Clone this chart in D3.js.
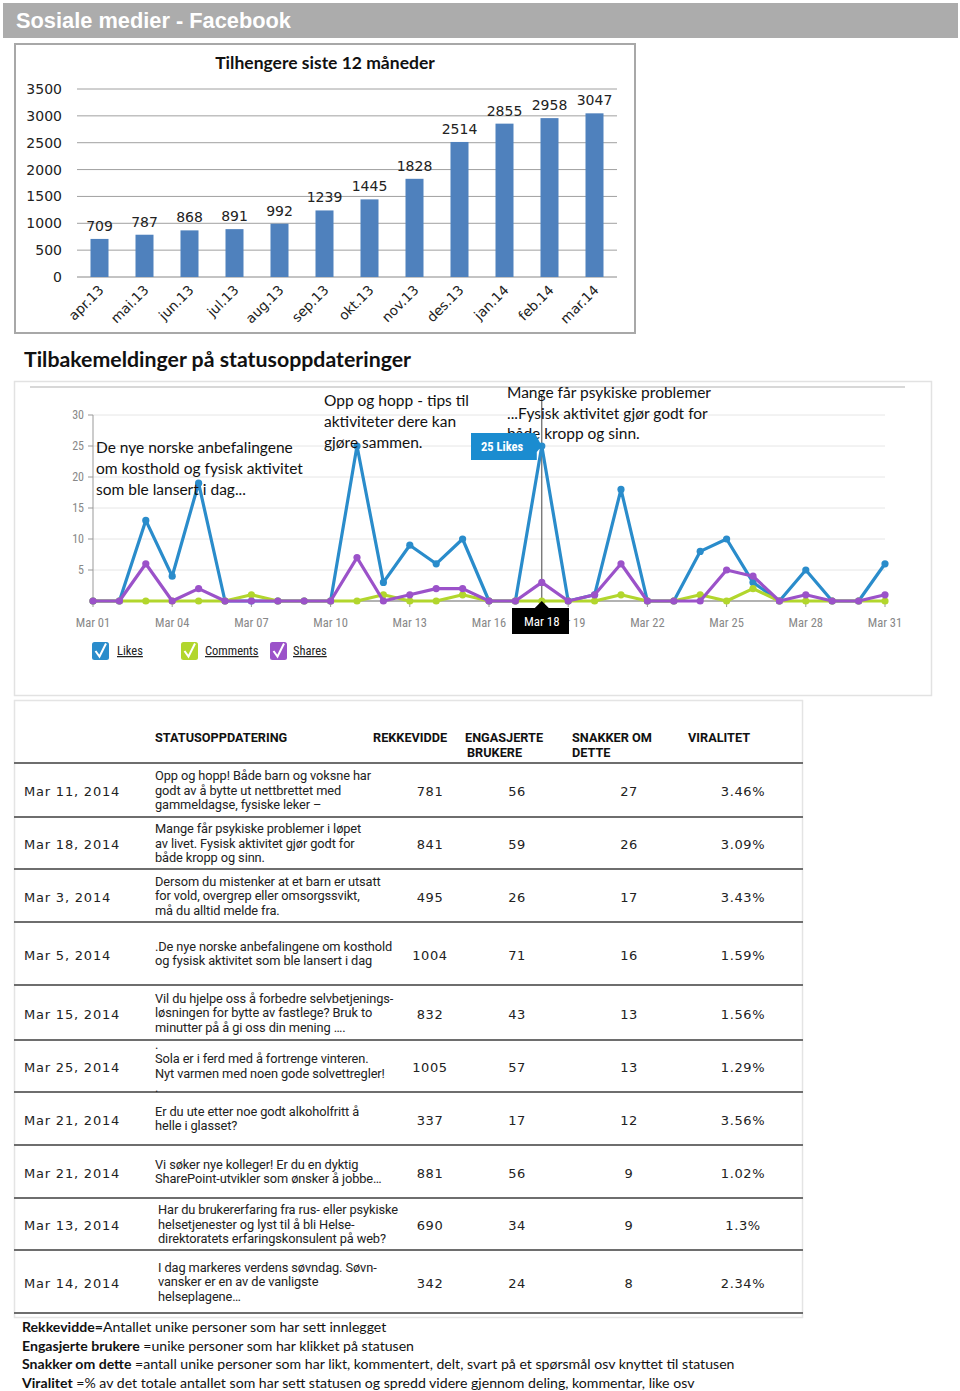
<!DOCTYPE html>
<html><head><meta charset="utf-8">
<script src="https://cdn.jsdelivr.net/npm/d3@7"></script>
<style>
html,body{margin:0;padding:0;background:#fff;}
svg{display:block;}
</style></head><body>
<svg id="c" width="960" height="1391"></svg>
<script>
// ---------- data ----------
const months = ["apr.13","mai.13","jun.13","jul.13","aug.13","sep.13","okt.13","nov.13","des.13","jan.14","feb.14","mar.14"];
const followers = [709,787,868,891,992,1239,1445,1828,2514,2855,2958,3047];
const followerTicks = [0,500,1000,1500,2000,2500,3000,3500];

const days = [1,2,3,4,5,6,7,8,9,10,11,12,13,14,15,16,17,18,19,20,21,22,23,24,25,26,27,28,29,30,31];
const dayTickDays = [1,4,7,10,13,16,19,22,25,28,31];
const dayTickLabels = ["Mar 01","Mar 04","Mar 07","Mar 10","Mar 13","Mar 16","Mar 19","Mar 22","Mar 25","Mar 28","Mar 31"];
const feedbackTicks = [5,10,15,20,25,30];
const likes    = [0,0,13,4,19,0,0,0,0,0,25,3,9,6,10,0,0,25,0,1,18,0,0,8,10,3,0,5,0,0,6];
const comments = [0,0,0,0,0,0,1,0,0,0,0,1,0,0,1,0,0,0,0,0,1,0,0,1,0,2,0,0,0,0,0];
const shares   = [0,0,6,0,2,0,0,0,0,0,7,0,1,2,2,0,0,3,0,1,6,0,0,0,5,4,0,1,0,0,1];
const seriesNames = ["Likes","Comments","Shares"];

const postDates = ["Mar 11, 2014","Mar 18, 2014","Mar 3, 2014","Mar 5, 2014","Mar 15, 2014","Mar 25, 2014","Mar 21, 2014","Mar 21, 2014","Mar 13, 2014","Mar 14, 2014"];
const postTexts = [
  ["Opp og hopp! Både barn og voksne har","godt av å bytte ut nettbrettet med","gammeldagse, fysiske leker –"],
  ["Mange får psykiske problemer i løpet","av livet. Fysisk aktivitet gjør godt for","både kropp og sinn."],
  ["Dersom du mistenker at et barn er utsatt","for vold, overgrep eller omsorgssvikt,","må du alltid melde fra."],
  [".De nye norske anbefalingene om kosthold","og fysisk aktivitet som ble lansert i dag"],
  ["Vil du hjelpe oss å forbedre selvbetjenings-","løsningen for bytte av fastlege? Bruk to","minutter på å gi oss din mening …."],
  [".","Sola er i ferd med å fortrenge vinteren.","Nyt varmen med noen gode solvettregler!","."],
  ["Er du ute etter noe godt alkoholfritt å","helle i glasset?"],
  ["Vi søker nye kolleger! Er du en dyktig","SharePoint-utvikler som ønsker å jobbe…"],
  ["Har du brukererfaring fra rus- eller psykiske","helsetjenester og lyst til å bli Helse-","direktoratets erfaringskonsulent på web?"],
  ["I dag markeres verdens søvndag. Søvn-","vansker er en av de vanligste","helseplagene…"]
];
const reach    = [781,841,495,1004,832,1005,337,881,690,342];
const engaged  = [56,59,26,71,43,57,17,56,34,24];
const talking  = [27,26,17,16,13,13,12,9,9,8];
const virality = ["3.46%","3.09%","3.43%","1.59%","1.56%","1.29%","3.56%","1.02%","1.3%","2.34%"];

// ---------- layout ----------
const svg = d3.select("#c");
const NARROW = "'Liberation Sans Narrow','Arial Narrow','Roboto Condensed',sans-serif";
const MYR = "Roboto,'Noto Sans',sans-serif";
const CAL = "Lato,'Open Sans',sans-serif";
const VER = "'DejaVu Sans',Verdana,sans-serif";

// header bar
svg.append("rect").attr("x",3).attr("y",3).attr("width",955).attr("height",35).attr("fill","#acacac");
svg.append("text").attr("x",16).attr("y",28).text("Sosiale medier - Facebook")
  .attr("font-family","'Liberation Sans',Arial,sans-serif").attr("font-weight","bold")
  .attr("font-size",21.8).attr("fill","#fff");

// ---------- bar chart ----------
svg.append("rect").attr("x",15).attr("y",44).attr("width",620).attr("height",289)
  .attr("fill","#fff").attr("stroke","#a8a8a8").attr("stroke-width",2);
svg.append("text").attr("x",325).attr("y",69).attr("text-anchor","middle")
  .text("Tilhengere siste 12 måneder")
  .attr("font-family",CAL).attr("font-weight","bold").attr("font-size",17.5).attr("fill","#111");

const bx = d3.scaleBand().domain(months).range([77,617]).paddingInner(0.6).paddingOuter(0.3);
const by = d3.scaleLinear().domain([0,3500]).range([277,89]);

const bg = svg.append("g");
bg.selectAll("line.g").data(followerTicks).join("line")
  .attr("x1",77).attr("x2",617).attr("y1",d=>by(d)).attr("y2",d=>by(d))
  .attr("stroke",d=>d===0?"#888":"#a0a0a0").attr("stroke-width",1);
bg.selectAll("text.yt").data(followerTicks).join("text")
  .attr("x",62).attr("y",d=>by(d)+5).attr("text-anchor","end").text(d=>d)
  .attr("font-family",VER).attr("font-size",14).attr("fill","#222");
bg.selectAll("rect.bar").data(followers).join("rect")
  .attr("x",(d,i)=>bx(months[i])).attr("width",bx.bandwidth())
  .attr("y",d=>by(d)).attr("height",d=>by(0)-by(d)).attr("fill","#4f81bd");
bg.selectAll("text.vl").data(followers).join("text")
  .attr("x",(d,i)=>bx(months[i])+bx.bandwidth()/2).attr("y",d=>by(d)-8)
  .attr("text-anchor","middle").text(d=>d)
  .attr("font-family",VER).attr("font-size",14).attr("fill","#222");
bg.selectAll("text.xl").data(months).join("text")
  .attr("transform",d=>`translate(${bx(d)+bx.bandwidth()/2+5},291) rotate(-45)`)
  .attr("text-anchor","end").text(d=>d)
  .attr("font-family",VER).attr("font-size",13.5).attr("fill","#222");

// ---------- second heading ----------
svg.append("text").attr("x",24).attr("y",367).text("Tilbakemeldinger på statusoppdateringer")
  .attr("font-family",CAL).attr("font-weight","bold").attr("font-size",21.3).attr("fill","#111");

// ---------- line chart ----------
svg.append("rect").attr("x",14.5).attr("y",381.5).attr("width",917).attr("height",314)
  .attr("fill","#fff").attr("stroke","#e2e2e2").attr("stroke-width",1.5);
svg.append("line").attr("x1",30).attr("x2",905).attr("y1",387).attr("y2",387)
  .attr("stroke","#d8d8d8").attr("stroke-width",2);

const lx = d3.scaleLinear().domain([1,31]).range([93,885]);
const ly = d3.scaleLinear().domain([0,30]).range([601,415]);
const lg = svg.append("g");
lg.selectAll("line.grid").data(feedbackTicks).join("line")
  .attr("x1",93).attr("x2",885).attr("y1",d=>ly(d)).attr("y2",d=>ly(d))
  .attr("stroke","#e6e6e6").attr("stroke-width",1);
// y axis
lg.append("line").attr("x1",93).attr("x2",93).attr("y1",ly(30)).attr("y2",ly(0)).attr("stroke","#999");
lg.selectAll("line.yt").data(feedbackTicks).join("line")
  .attr("x1",88).attr("x2",93).attr("y1",d=>ly(d)).attr("y2",d=>ly(d)).attr("stroke","#999");
lg.selectAll("text.yl").data(feedbackTicks).join("text")
  .attr("x",84).attr("y",d=>ly(d)+4).attr("text-anchor","end").text(d=>d)
  .attr("font-family",NARROW).attr("font-size",12).attr("fill","#888");
// x axis
lg.append("line").attr("x1",93).attr("x2",885).attr("y1",ly(0)).attr("y2",ly(0)).attr("stroke","#999").attr("stroke-width",1.5);
lg.selectAll("line.xt").data(dayTickDays).join("line")
  .attr("x1",d=>lx(d)).attr("x2",d=>lx(d)).attr("y1",ly(0)).attr("y2",ly(0)+6).attr("stroke","#999");
lg.selectAll("text.xl").data(dayTickDays).join("text")
  .attr("x",d=>lx(d)).attr("y",627).attr("text-anchor","middle").text((d,i)=>dayTickLabels[i])
  .attr("font-family",NARROW).attr("font-size",12.5).attr("fill","#888");

// annotations (under lines)
const annStyle = s => s.attr("font-family",CAL).attr("font-size",15.5).attr("fill","#111");
["De nye norske anbefalingene","om kosthold og fysisk aktivitet","som ble lansert i dag..."].forEach((t,i)=>annStyle(svg.append("text").attr("x",96).attr("y",453+i*21).text(t)));
["Opp og hopp - tips til","aktiviteter dere kan","gjøre sammen."].forEach((t,i)=>annStyle(svg.append("text").attr("x",324).attr("y",406+i*21).text(t)));
["Mange får psykiske problemer","...Fysisk aktivitet gjør godt for","både kropp og sinn."].forEach((t,i)=>annStyle(svg.append("text").attr("x",507).attr("y",398+i*20.5).text(t)));

// hover line
lg.append("line").attr("x1",lx(18)).attr("x2",lx(18)).attr("y1",395).attr("y2",ly(0)).attr("stroke","#444").attr("stroke-width",1);

const colors = ["#2a8ccb","#b2d62d","#9b52c9"];
const series = [likes,comments,shares];
const line = d3.line().x((d,i)=>lx(days[i])).y(d=>ly(d));
series.forEach((s,k)=>{
  lg.append("path").datum(s).attr("d",line).attr("fill","none")
    .attr("stroke",colors[k]).attr("stroke-width",3.2).attr("stroke-linejoin","round");
  lg.selectAll(null).data(s).join("circle")
    .attr("cx",(d,i)=>lx(days[i])).attr("cy",d=>ly(d)).attr("r",3.6).attr("fill",colors[k]);
});

// tooltip 25 Likes
const tx = lx(18), ty = ly(likes[17]);
svg.append("path").attr("d",`M471,433 L${tx-7},433 L${tx},${ty} L${tx-5},452 L${tx-5},460 L471,460 Z`).attr("fill","#1b8cd0");
svg.append("text").attr("x",481).attr("y",451).text("25 Likes").attr("font-family",NARROW)
  .attr("font-weight","bold").attr("font-size",12.5).attr("fill","#fff");
// date box
svg.append("path").attr("d",`M512,608 L${tx-7},608 L${tx},601 L${tx+7},608 L569,608 L569,634 L512,634 Z`).attr("fill","#000");
svg.append("text").attr("x",tx).attr("y",626).attr("text-anchor","middle").text("Mar 18")
  .attr("font-family",NARROW).attr("font-size",13).attr("fill","#fff");

// legend
const legX = [92,181,270], legTX = [117,205,293];
seriesNames.forEach((n,k)=>{
  svg.append("rect").attr("x",legX[k]).attr("y",642).attr("width",17).attr("height",18).attr("rx",2.5).attr("fill",colors[k]);
  svg.append("path").attr("d",`M${legX[k]+3.5},${651} L${legX[k]+7.5},${656.5} L${legX[k]+14},${643.5}`)
    .attr("fill","none").attr("stroke","#fff").attr("stroke-width",2);
  svg.append("text").attr("x",legTX[k]).attr("y",655).text(n).attr("font-family",NARROW)
    .attr("font-size",12.5).attr("fill","#222").attr("text-decoration","underline");
});

// ---------- table ----------
svg.append("rect").attr("x",14.5).attr("y",700.5).attr("width",788).attr("height",617)
  .attr("fill","#fff").attr("stroke","#e4e4e4").attr("stroke-width",1.5);
const hdr = (x,y,t)=>svg.append("text").attr("x",x).attr("y",y).text(t)
  .attr("font-family",MYR).attr("font-weight","bold").attr("font-size",12.7).attr("fill","#111");
hdr(155,742,"STATUSOPPDATERING");
hdr(373,742,"REKKEVIDDE");
hdr(465,742,"ENGASJERTE"); hdr(467,757,"BRUKERE");
hdr(572,742,"SNAKKER OM"); hdr(572,757,"DETTE");
hdr(688,742,"VIRALITET");

const rowBounds = [763,817,869,922,985,1040,1092,1145,1198,1250,1313];
rowBounds.forEach(y=>{
  svg.append("line").attr("x1",14).attr("x2",803).attr("y1",y).attr("y2",y).attr("stroke","#6e6e6e").attr("stroke-width",2);
});
const lh = 14.5;
postDates.forEach((d,i)=>{
  const mid = (rowBounds[i]+rowBounds[i+1])/2;
  const base = mid+6;
  svg.append("text").attr("x",24).attr("y",base).text(d).attr("font-family",VER).attr("font-size",13)
    .attr("letter-spacing",0.8).attr("fill","#222");
  const lines = postTexts[i];
  const top = mid - (lines.length-1)*lh/2;
  lines.forEach((t,j)=>svg.append("text").attr("x",i>=8?158:155).attr("y",top+j*lh+4.5).text(t)
    .attr("font-family",MYR).attr("font-size",12.8).attr("letter-spacing",-0.1).attr("fill","#222"));
  [[430,reach[i]],[517,engaged[i]],[629,talking[i]],[743,virality[i]]].forEach(([x,v])=>{
    svg.append("text").attr("x",x).attr("y",base).attr("text-anchor","middle").text(v)
      .attr("font-family",VER).attr("font-size",13).attr("letter-spacing",0.6).attr("fill","#222");
  });
});

// ---------- footer ----------
const foot = [
  ["Rekkevidde=","Antallet unike personer som har sett innlegget"],
  ["Engasjerte brukere"," =unike personer som har klikket på statusen"],
  ["Snakker om dette"," =antall unike personer som har likt, kommentert, delt, svart på et spørsmål osv knyttet til statusen"],
  ["Viralitet"," =% av det totale antallet som har sett statusen og spredd videre gjennom deling, kommentar, like osv"]
];
foot.forEach((f,i)=>{
  const t = svg.append("text").attr("x",22).attr("y",1332+i*18.5).attr("font-family",CAL).attr("font-size",14.1).attr("fill","#111");
  t.append("tspan").attr("font-weight","bold").text(f[0]);
  t.append("tspan").text(f[1]);
});
</script>
</body></html>
